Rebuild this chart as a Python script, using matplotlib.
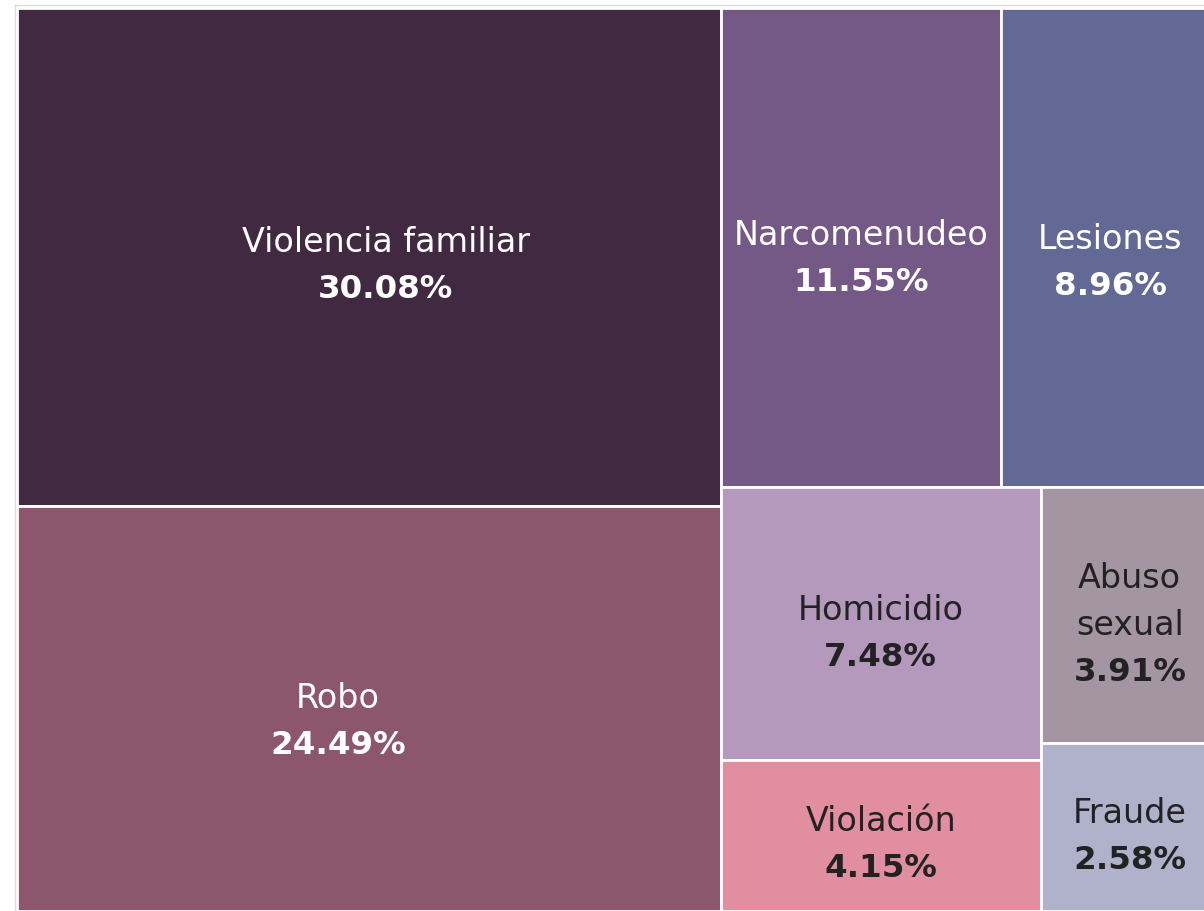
import matplotlib
matplotlib.use('Agg')
import matplotlib.pyplot as plt
from matplotlib.patches import Rectangle
from matplotlib.lines import Line2D

# delitos y su porcentaje
labels = ['Violencia familiar', 'Robo', 'Narcomenudeo', 'Lesiones',
          'Homicidio', 'Violación', 'Abuso\nsexual', 'Fraude']
values = [30.08, 24.49, 11.55, 8.96, 7.48, 4.15, 3.91, 2.58]
colors = ['#412a41', '#8c576d', '#745886', '#636995',
          '#b499bd', '#e08ea0', '#a396a2', '#b0b2cb']
text_colors = ['white', 'white', 'white', 'white',
               '#222222', '#222222', '#222222', '#222222']
# small nudges of the label block (px), like the original
label_dx = [17, -31, 0, 0, 0, 0, 0, 0]
label_dy = [9, 14, 11, 15, 10, 10, 10, 10]
line_step = 47

# layout size in px (the picture is cut a bit on the right)
W, H = 1202, 903


def stack(x, y, w, h, vals, vertical):
    s = sum(vals)
    out = []
    for v in vals:
        if vertical:
            hh = h * v / s
            out.append((x, y, w, hh))
            y += hh
        else:
            ww = w * v / s
            out.append((x, y, ww, h))
            x += ww
    return out


total = sum(values)
left_w = W * sum(values[:2]) / total
rects = stack(0, 0, left_w, H, values[:2], True)
rx, rw = left_w, W - left_w
right_total = sum(values[2:])
top_h = H * sum(values[2:4]) / right_total
rects += stack(rx, 0, rw, top_h, values[2:4], False)
cols = stack(rx, top_h, rw, H - top_h, [sum(values[4:6]), sum(values[6:8])], False)
rects += stack(*cols[0], values[4:6], True)
rects += stack(*cols[1], values[6:8], True)

fig = plt.figure(figsize=(12.04, 9.11), dpi=100)
ax = fig.add_axes([17 / 1204, 0, 1187 / 1204, 903 / 911])
ax.set_xlim(0, 1187)
ax.set_ylim(H, 0)
ax.axis('off')

for (x, y, w, h), lab, val, c, tc, dx, dy in zip(rects, labels, values, colors,
                                                 text_colors, label_dx, label_dy):
    ax.add_patch(Rectangle((x, y), w, h, facecolor=c, edgecolor='white', linewidth=2))
    cx, cy = x + w / 2 + dx, y + h / 2 + dy
    lines = lab.split('\n') + [f'{val:.2f}%']
    n = len(lines)
    for i, t in enumerate(lines):
        ty = cy + (i - (n - 1) / 2) * line_step
        bold = i == n - 1
        ax.text(cx, ty, t, ha='center', va='center', color=tc,
                fontsize=23.4 if bold else 24, family='DejaVu Sans',
                fontweight='bold' if bold else 'normal')

fig.lines.append(Line2D([15 / 1204, 1], [1 - 5 / 911, 1 - 5 / 911],
                        transform=fig.transFigure, color='#dddddd', linewidth=1))
fig.lines.append(Line2D([15 / 1204, 15 / 1204], [0, 1 - 5 / 911],
                        transform=fig.transFigure, color='#dddddd', linewidth=1))

fig.savefig('out.png', dpi=100)
